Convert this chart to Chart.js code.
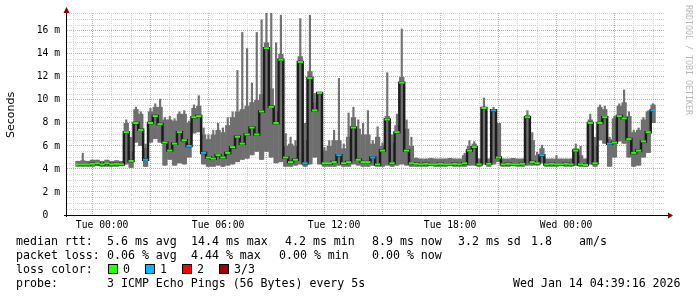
<!DOCTYPE html>
<html>
<head>
<meta charset="utf-8">
<script src="https://cdn.jsdelivr.net/npm/chart.js@4.4.1/dist/chart.umd.min.js"></script>
<style>
    html, body { margin: 0; padding: 0; background: #fff; }
</style>
</head>
<body>
<canvas id="myChart" width="697" height="297"></canvas>
<script>
// smoke range (min / max ping) and median rtt in ms, one sample per 15 minutes
// first sample is Mon 22:45, hours are counted from Tue 00:00
const smokeLow = [
    4.2, 4.2, 4.2, 4.2, 4.25, 4.2, 4.2, 4.2, 4.2, 4.25,
    4.4, 4.1, 6.3, 6.0, 4.2, 6.3, 6.6, 6.3, 4.3, 4.8,
    4.3, 4.5, 4.4, 5.0, 7.1, 7.2, 4.4, 4.2, 4.2, 4.3,
    4.2, 4.3, 4.4, 4.6, 4.8, 4.9, 5.2, 5.5, 4.8, 5.5,
    5.0, 4.5, 4.6, 4.2, 4.2, 4.3, 4.4, 4.2, 4.4, 5.0,
    4.4, 4.2, 4.2, 4.2, 4.3, 4.2, 4.2, 4.4, 4.3, 4.2,
    4.2, 4.3, 4.2, 4.2, 4.3, 4.2, 4.3, 4.4, 4.3, 4.2,
    4.2, 4.2, 4.2, 4.25, 4.2, 4.2, 4.2, 4.25, 4.2, 4.2,
    4.2, 4.3, 4.3, 4.2, 4.4, 4.2, 4.4, 4.6, 4.2, 4.2,
    4.25, 4.2, 4.2, 4.3, 4.3, 4.3, 4.5, 4.2, 4.2, 4.2,
    4.25, 4.2, 4.2, 4.3, 4.2, 4.2, 4.4, 4.2, 6.5, 6.2,
    4.2, 5.0, 6.4, 6.2, 5.0, 4.2, 4.3, 5.0, 5.4, 8.0
];
// upper edge of the dense part of the smoke
const smokeBody = [
    4.7, 4.75, 4.7, 4.8, 4.8, 4.7, 4.8, 4.7, 4.75, 4.7,
    8.0, 5.5, 9.2, 8.8, 5.8, 9.0, 9.4, 9.4, 8.3, 8.3,
    8.2, 8.8, 8.8, 8.0, 9.3, 9.5, 7.0, 6.6, 7.0, 7.4,
    7.2, 7.8, 8.5, 9.0, 9.2, 9.5, 9.8, 10.0, 10.5, 15.0,
    11.0, 9.0, 14.0, 6.0, 6.2, 6.0, 13.8, 6.5, 12.5, 9.8,
    10.7, 5.6, 6.0, 6.5, 6.5, 5.8, 6.8, 8.5, 7.5, 7.0,
    7.0, 6.2, 6.8, 6.0, 8.6, 6.3, 7.8, 12.0, 7.5, 6.0,
    4.95, 4.9, 4.9, 4.95, 4.9, 4.9, 4.9, 4.95, 4.9, 4.9,
    5.2, 6.0, 6.2, 4.9, 9.4, 4.9, 9.2, 8.0, 4.9, 4.9,
    4.95, 4.9, 4.9, 8.7, 6.5, 5.2, 5.8, 4.9, 4.9, 4.9,
    4.9, 4.9, 4.9, 5.8, 5.2, 4.9, 8.3, 6.0, 9.4, 9.2,
    6.6, 8.4, 9.5, 9.8, 8.6, 7.2, 7.4, 8.3, 9.0, 9.6
];
// max ping, drawn as thin spikes
const smokeHigh = [
    4.7, 5.4, 4.7, 4.8, 4.8, 4.7, 4.8, 4.7, 4.75, 4.7,
    8.3, 6.8, 9.4, 9.0, 6.2, 9.3, 9.7, 10.1, 8.5, 8.6,
    8.4, 9.0, 9.1, 8.2, 9.6, 10.4, 7.6, 7.0, 7.4, 8.0,
    7.6, 8.5, 9.0, 12.6, 15.9, 14.5, 11.5, 15.9, 17.0, 17.6,
    17.6, 15.0, 17.4, 7.1, 6.8, 6.5, 17.1, 8.0, 17.4, 10.6,
    10.7, 5.9, 6.5, 7.4, 11.9, 6.2, 8.9, 9.4, 8.3, 8.0,
    9.1, 6.5, 7.7, 6.3, 12.4, 7.0, 8.8, 16.2, 8.3, 6.8,
    5.0, 4.9, 4.9, 4.95, 4.9, 4.9, 4.9, 4.95, 4.9, 4.9,
    5.4, 6.5, 6.4, 4.9, 10.2, 4.9, 9.4, 8.0, 4.9, 4.9,
    4.95, 4.9, 4.9, 9.1, 7.2, 5.5, 6.1, 4.9, 4.9, 5.2,
    4.9, 4.9, 4.9, 6.2, 6.0, 4.9, 8.8, 6.8, 9.6, 9.5,
    6.8, 8.6, 9.7, 10.9, 9.0, 7.4, 7.6, 8.5, 9.1, 9.7
];
const medianRtt = [
    4.4, 4.4, 4.4, 4.45, 4.5, 4.4, 4.5, 4.4, 4.45, 4.4,
    7.2, 4.7, 8.0, 7.4, 4.8, 8.0, 8.6, 7.9, 6.3, 5.6,
    6.2, 7.2, 6.5, 6.0, 8.5, 8.6, 5.4, 5.0, 4.9, 5.2,
    5.0, 5.4, 5.9, 6.8, 6.2, 7.0, 7.6, 7.0, 9.0, 14.5,
    9.4, 8.0, 13.5, 5.0, 4.6, 4.8, 13.3, 4.5, 11.9, 9.1,
    10.6, 4.5, 4.5, 4.6, 5.2, 4.5, 4.6, 7.6, 4.8, 4.6,
    4.6, 5.0, 4.4, 5.6, 8.3, 4.5, 7.2, 11.5, 5.6, 4.5,
    4.45, 4.4, 4.45, 4.4, 4.4, 4.45, 4.4, 4.4, 4.45, 4.4,
    4.5, 5.6, 5.9, 4.4, 9.3, 4.45, 9.1, 5.0, 4.4, 4.45,
    4.4, 4.4, 4.45, 8.5, 4.6, 4.5, 5.2, 4.4, 4.45, 4.4,
    4.4, 4.45, 4.4, 5.6, 4.4, 4.35, 8.0, 4.5, 8.0, 8.5,
    6.2, 6.3, 8.6, 8.4, 6.6, 5.4, 5.6, 6.4, 7.2, 9.1
];
// lost pings out of 3 for each sample
const lossCount = [
    0, 0, 0, 0, 0, 0, 0, 0, 0, 0,
    0, 0, 0, 0, 1, 0, 0, 0, 0, 0,
    0, 0, 0, 1, 0, 0, 1, 0, 0, 0,
    0, 0, 0, 0, 0, 0, 0, 0, 0, 0,
    0, 0, 0, 0, 0, 0, 0, 1, 0, 0,
    0, 0, 0, 0, 1, 0, 0, 0, 0, 0,
    0, 1, 0, 0, 0, 0, 0, 0, 0, 0,
    0, 0, 0, 0, 0, 0, 0, 0, 0, 0,
    0, 0, 0, 0, 0, 0, 1, 0, 0, 0,
    0, 0, 0, 0, 0, 0, 1, 0, 0, 0,
    0, 0, 0, 0, 0, 0, 0, 0, 0, 0,
    1, 0, 0, 0, 0, 0, 0, 0, 0, 1
];
const sampleStart = -1.25;
const sampleStep = 0.25;

const xLabelHours = [0, 6, 12, 18, 24];
const xLabels = ['Tue 00:00', 'Tue 06:00', 'Tue 12:00', 'Tue 18:00', 'Wed 00:00'];

const lossColors = ['#26ff00', '#00b8ff', '#ff0000', '#a00000'];
const lossNames = ['0', '1', '2', '3/3'];

const legendRtt = ['median rtt:', '5.6 ms avg', '14.4 ms max', '4.2 ms min', '8.9 ms now', '3.2 ms sd', '1.8', 'am/s'];
const legendLoss = ['packet loss:', '0.06 % avg', '4.44 % max', '0.00 % min', '0.00 % now'];
const probeText = '3 ICMP Echo Pings (56 Bytes) every 5s';
const stampText = 'Wed Jan 14 04:39:16 2026';

const hours = medianRtt.map((v, i) => sampleStart + i * sampleStep);

const MONO = '"DejaVu Sans Mono", monospace';

// axes with arrows, titles and the legend block under the graph
const smokeExtras = {
    id: 'smokeExtras',
    afterDraw(chart) {
        const ctx = chart.ctx;
        const a = chart.chartArea;
        ctx.save();

        // axis lines
        ctx.strokeStyle = '#000';
        ctx.lineWidth = 1;
        ctx.beginPath();
        ctx.moveTo(a.left - 0.5, a.bottom + 2);
        ctx.lineTo(a.left - 0.5, a.top - 2);
        ctx.moveTo(a.left - 3, a.bottom + 0.5);
        ctx.lineTo(a.right + 4, a.bottom + 0.5);
        ctx.stroke();

        // arrows
        ctx.fillStyle = '#8b0000';
        ctx.beginPath();
        ctx.moveTo(a.left - 0.5, a.top - 6);
        ctx.lineTo(a.left - 3.5, a.top);
        ctx.lineTo(a.left + 2.5, a.top);
        ctx.closePath();
        ctx.fill();
        ctx.beginPath();
        ctx.moveTo(a.right + 8, a.bottom + 0.5);
        ctx.lineTo(a.right + 3, a.bottom - 2.5);
        ctx.lineTo(a.right + 3, a.bottom + 3.5);
        ctx.closePath();
        ctx.fill();

        // y title
        ctx.fillStyle = '#000';
        ctx.font = '11px "DejaVu Sans", sans-serif';
        ctx.textAlign = 'center';
        ctx.textBaseline = 'middle';
        ctx.save();
        ctx.translate(11, (a.top + a.bottom) / 2 + 1);
        ctx.rotate(-Math.PI / 2);
        ctx.fillText('Seconds', 0, 0);
        ctx.restore();

        // watermark on the right
        ctx.save();
        ctx.fillStyle = '#b8b8b8';
        ctx.font = '8.3px ' + MONO;
        ctx.textAlign = 'left';
        ctx.translate(688, 5);
        ctx.rotate(Math.PI / 2);
        ctx.fillText('RRDTOOL / TOBI OETIKER', 0, 0);
        ctx.restore();

        // legend
        ctx.fillStyle = '#000';
        ctx.font = '11.6px ' + MONO;
        ctx.textAlign = 'left';
        ctx.textBaseline = 'middle';
        const rttX = [16, 107, 191, 285, 372, 458, 531, 579];
        legendRtt.forEach((t, i) => ctx.fillText(t, rttX[i], 241.5));
        const lossX = [16, 107, 191, 279, 372];
        legendLoss.forEach((t, i) => ctx.fillText(t, lossX[i], 255.5));
        ctx.fillText('loss color:', 16, 269.5);
        const boxX = [108, 145, 182, 219];
        lossColors.forEach((c, i) => {
            ctx.fillStyle = c;
            ctx.fillRect(boxX[i], 264.5, 9, 9);
            ctx.strokeStyle = '#000';
            ctx.strokeRect(boxX[i] + 0.5, 264.5, 9, 9);
            ctx.fillStyle = '#000';
            ctx.fillText(lossNames[i], boxX[i] + 15, 269.5);
        });
        ctx.fillText('probe:', 16, 283.5);
        ctx.fillText(probeText, 107, 283.5);
        ctx.fillText(stampText, 513, 283.5);

        ctx.restore();
    }
};

const ctx = document.getElementById('myChart');

new Chart(ctx.getContext('2d'), {
    data: {
        datasets: [{
            type: 'bar',
            label: 'smoke spikes',
            order: 3,
            grouped: false,
            data: hours.map((h, i) => ({ x: h, y: [smokeLow[i], smokeHigh[i]] })),
            backgroundColor: '#727272',
            borderWidth: 0,
            barPercentage: 0.45,
            categoryPercentage: 1
        }, {
            type: 'bar',
            label: 'smoke',
            order: 2,
            grouped: false,
            data: hours.map((h, i) => ({ x: h, y: [smokeLow[i], smokeBody[i]] })),
            backgroundColor: '#6f6f6f',
            borderWidth: 0,
            barPercentage: 1.1,
            categoryPercentage: 1
        }, {
            type: 'line',
            label: 'median rtt',
            order: 1,
            data: hours.map((h, i) => ({ x: h, y: medianRtt[i] })),
            stepped: 'middle',
            borderColor: '#1c1c1c',
            borderWidth: 2.5,
            pointStyle: 'line',
            pointRadius: 2.6,
            pointBorderWidth: 2,
            pointBorderColor: lossCount.map(n => lossColors[n]),
            pointBackgroundColor: lossCount.map(n => lossColors[n])
        }]
    },
    options: {
        responsive: false,
        animation: false,
        events: [],
        layout: { padding: { left: 0, top: 13, right: 32, bottom: 62 } },
        plugins: {
            legend: { display: false },
            tooltip: { enabled: false }
        },
        scales: {
            x: {
                type: 'linear',
                min: -1.3,
                max: 28.6,
                afterFit: s => { s.height = 20; },
                border: { display: false, dash: [1, 1] },
                grid: {
                    drawTicks: false,
                    color: c => (c.tick && c.tick.value % 3 === 0) ? '#e49a9a' : '#d2d2d2'
                },
                ticks: {
                    stepSize: 1,
                    includeBounds: false,
                    autoSkip: false,
                    maxRotation: 0,
                    padding: 5,
                    color: '#000',
                    font: { family: MONO, size: 9.7 },
                    callback: function (value) {
                        const k = xLabelHours.indexOf(value);
                        return k >= 0 ? xLabels[k] : '';
                    }
                }
            },
            y: {
                type: 'linear',
                min: 0,
                max: 17.56,
                afterFit: s => { s.width = 67; },
                border: { display: false, dash: [1, 1] },
                grid: {
                    drawTicks: false,
                    color: c => (c.tick && c.tick.value % 2 === 0) ? '#e49a9a' : '#d2d2d2'
                },
                ticks: {
                    stepSize: 0.5,
                    includeBounds: false,
                    autoSkip: false,
                    padding: 7,
                    color: '#000',
                    font: { family: MONO, size: 9.7 },
                    callback: function (value) {
                        if (value % 2 !== 0) return '';
                        return value === 0 ? '0  ' : value + ' m';
                    }
                }
            }
        }
    },
    plugins: [smokeExtras]
});
</script>
</body>
</html>
